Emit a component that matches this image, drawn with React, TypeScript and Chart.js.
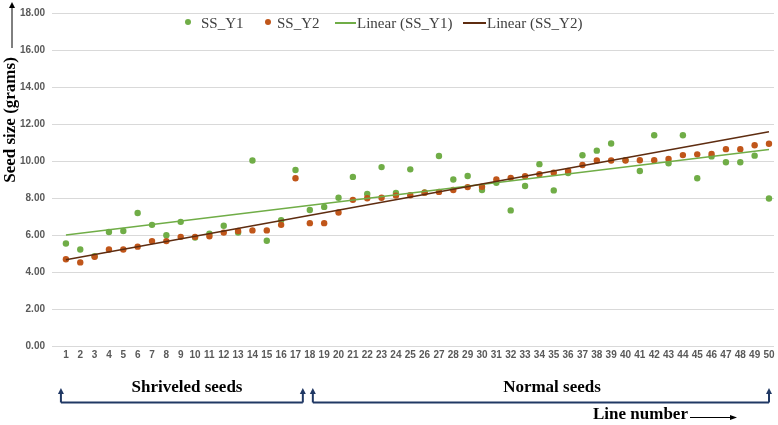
import React, { useEffect, useRef } from "react";
import { Chart, registerables } from "chart.js";

Chart.register(...registerables);

const lineNumbers = [
  "1", "2", "3", "4", "5", "6", "7", "8", "9", "10",
  "11", "12", "13", "14", "15", "16", "17", "18", "19", "20",
  "21", "22", "23", "24", "25", "26", "27", "28", "29", "30",
  "31", "32", "33", "34", "35", "36", "37", "38", "39", "40",
  "41", "42", "43", "44", "45", "46", "47", "48", "49", "50",
];

const ssY1 = [
  5.54, 5.22, 4.85, 6.16, 6.22, 7.19, 6.55, 5.99, 6.71, 5.86,
  6.07, 6.5, 6.13, 10.03, 5.69, 6.8, 9.51, 7.35, 7.52, 8.01,
  9.14, 8.22, 9.67, 8.27, 9.55, 8.3, 10.27, 9.0, 9.19, 8.43,
  8.82, 7.33, 8.65, 9.83, 8.41, 9.35, 10.31, 10.56, 10.95, 10.05,
  9.46, 11.39, 9.88, 11.39, 9.07, 10.25, 9.93, 9.93, 10.29, 7.97,
];

const ssY2 = [
  4.69, 4.52, 4.82, 5.22, 5.22, 5.37, 5.67, 5.67, 5.9, 5.9,
  5.93, 6.13, 6.22, 6.25, 6.25, 6.55, 9.07, 6.64, 6.64, 7.22,
  7.9, 7.99, 8.01, 8.13, 8.15, 8.29, 8.33, 8.43, 8.59, 8.61,
  9.0, 9.09, 9.18, 9.28, 9.37, 9.46, 9.78, 10.03, 10.03, 10.03,
  10.04, 10.04, 10.11, 10.32, 10.36, 10.38, 10.64, 10.64, 10.85, 10.93,
];

// Trend-line end points (at line 1 and line 50)
const trendX = [1, 50];
const trendY1 = [6.0, 10.62];
const trendY2 = [4.66, 11.58];

const legendLabels = ["SS_Y1", "SS_Y2", "Linear (SS_Y1)", "Linear (SS_Y2)"];
const yTitle = "Seed size (grams)";
const groupLabels = ["Shriveled seeds", "Normal seeds"];
const xTitle = "Line number";

const GREEN = "#70ad47";
const BROWN = "#c0561a";
const DARK_BROWN = "#5e2c10";
const NAVY = "#203864";
const SERIF = "'Liberation Serif', 'Times New Roman', serif";

function arrowUp(ctx: CanvasRenderingContext2D, x: number, yBottom: number, yTop: number) {
  ctx.beginPath();
  ctx.moveTo(x, yBottom);
  ctx.lineTo(x, yTop + 4);
  ctx.stroke();
  ctx.beginPath();
  ctx.moveTo(x, yTop);
  ctx.lineTo(x - 3, yTop + 6);
  ctx.lineTo(x + 3, yTop + 6);
  ctx.closePath();
  ctx.fill();
}

const annotationPlugin = {
  id: "annotations",
  afterDraw(chart: any) {
    const ctx: CanvasRenderingContext2D = chart.ctx;
    const xs = chart.scales.x;
    ctx.save();

    // Legend
    ctx.font = `15px ${SERIF}`;
    ctx.textBaseline = "middle";
    ctx.textAlign = "left";
    ctx.fillStyle = "#404040";
    const ly = 24;
    ctx.fillStyle = GREEN;
    ctx.beginPath();
    ctx.arc(188, 22, 3, 0, Math.PI * 2);
    ctx.fill();
    ctx.fillStyle = "#404040";
    ctx.fillText(legendLabels[0], 201, ly);
    ctx.fillStyle = BROWN;
    ctx.beginPath();
    ctx.arc(268, 22, 3, 0, Math.PI * 2);
    ctx.fill();
    ctx.fillStyle = "#404040";
    ctx.fillText(legendLabels[1], 277, ly);
    ctx.strokeStyle = GREEN;
    ctx.lineWidth = 2;
    ctx.beginPath();
    ctx.moveTo(335, 23);
    ctx.lineTo(356, 23);
    ctx.stroke();
    ctx.fillText(legendLabels[2], 357, ly);
    ctx.strokeStyle = DARK_BROWN;
    ctx.beginPath();
    ctx.moveTo(463, 23);
    ctx.lineTo(486, 23);
    ctx.stroke();
    ctx.fillText(legendLabels[3], 487, ly);

    // Y axis title with arrow
    ctx.save();
    ctx.translate(11, 120);
    ctx.rotate(-Math.PI / 2);
    ctx.font = `bold 17px ${SERIF}`;
    ctx.fillStyle = "#000";
    ctx.textAlign = "center";
    ctx.textBaseline = "middle";
    ctx.fillText(yTitle, 0, 0);
    ctx.restore();
    ctx.strokeStyle = "#000";
    ctx.fillStyle = "#000";
    ctx.lineWidth = 1;
    arrowUp(ctx, 12, 48, 2);

    // Group brackets
    const x1 = xs.getPixelForValue(1) - 5;
    const x18 = xs.getPixelForValue(18) - 7;
    const x19 = xs.getPixelForValue(18) + 3;
    const x50 = xs.getPixelForValue(50);
    ctx.strokeStyle = NAVY;
    ctx.fillStyle = NAVY;
    ctx.lineWidth = 2;
    const by = 402.5;
    ctx.beginPath();
    ctx.moveTo(x1, by);
    ctx.lineTo(x18, by);
    ctx.stroke();
    ctx.beginPath();
    ctx.moveTo(x19, by);
    ctx.lineTo(x50, by);
    ctx.stroke();
    ctx.lineWidth = 2;
    arrowUp(ctx, x1, by, 388);
    arrowUp(ctx, x18, by, 388);
    arrowUp(ctx, x19, by, 388);
    arrowUp(ctx, x50, by, 388);

    ctx.font = `bold 17px ${SERIF}`;
    ctx.fillStyle = "#000";
    ctx.textAlign = "center";
    ctx.textBaseline = "middle";
    ctx.fillText(groupLabels[0], 187, 388);
    ctx.fillText(groupLabels[1], 552, 388);

    ctx.textAlign = "left";
    ctx.fillText(xTitle, 593, 415);
    ctx.strokeStyle = "#000";
    ctx.fillStyle = "#000";
    ctx.lineWidth = 1;
    ctx.beginPath();
    ctx.moveTo(690, 417.5);
    ctx.lineTo(732, 417.5);
    ctx.stroke();
    ctx.beginPath();
    ctx.moveTo(737, 417.5);
    ctx.lineTo(730, 415);
    ctx.lineTo(730, 420);
    ctx.closePath();
    ctx.fill();

    ctx.restore();
  },
};

export default function App() {
  const canvasRef = useRef<HTMLCanvasElement | null>(null);

  useEffect(() => {
    document.body.style.margin = "0";
    const canvas = canvasRef.current;
    if (!canvas) return;

    const chart = new Chart(canvas, {
      type: "scatter",
      data: {
        datasets: [
          {
            label: legendLabels[0],
            data: ssY1.map((v, i) => ({ x: Number(lineNumbers[i]), y: v })),
            backgroundColor: GREEN,
            borderColor: GREEN,
            pointRadius: 3.2,
            pointBorderWidth: 0,
            order: 3,
          },
          {
            label: legendLabels[1],
            data: ssY2.map((v, i) => ({ x: Number(lineNumbers[i]), y: v })),
            backgroundColor: BROWN,
            borderColor: BROWN,
            pointRadius: 3.2,
            pointBorderWidth: 0,
            order: 2,
          },
          {
            type: "line",
            label: legendLabels[2],
            data: trendX.map((x, i) => ({ x, y: trendY1[i] })),
            borderColor: GREEN,
            borderWidth: 1.6,
            pointRadius: 0,
            fill: false,
            order: 1,
          } as any,
          {
            type: "line",
            label: legendLabels[3],
            data: trendX.map((x, i) => ({ x, y: trendY2[i] })),
            borderColor: DARK_BROWN,
            borderWidth: 1.6,
            pointRadius: 0,
            fill: false,
            order: 0,
          } as any,
        ],
      },
      options: {
        animation: false,
        responsive: false,
        maintainAspectRatio: false,
        layout: { padding: { top: 7, right: 0, left: 0, bottom: 0 } },
        plugins: {
          legend: { display: false },
          tooltip: { enabled: false },
        },
        scales: {
          x: {
            type: "linear",
            min: 0.03,
            max: 50.35,
            afterBuildTicks: (scale: any) => {
              scale.ticks = lineNumbers.map((l) => ({ value: Number(l) }));
            },
            afterFit: (scale: any) => {
              scale.height = 79;
            },
            grid: { display: false, drawTicks: false },
            border: { display: false },
            ticks: {
              autoSkip: false,
              maxRotation: 0,
              minRotation: 0,
              padding: 3,
              color: "#595959",
              font: { family: "'Liberation Sans', Arial, sans-serif", size: 10, weight: "bold" },
              callback: (v: any) => lineNumbers[Number(v) - 1] ?? "",
            },
          },
          y: {
            min: 0,
            max: 18,
            afterFit: (scale: any) => {
              scale.width = 52;
            },
            grid: { color: "#d9d9d9", lineWidth: 1, drawTicks: false },
            border: { display: false },
            ticks: {
              stepSize: 2,
              padding: 7,
              color: "#595959",
              font: { family: "'Liberation Sans', Arial, sans-serif", size: 10, weight: "bold" },
              callback: (v: any) => Number(v).toFixed(2),
            },
          },
        },
      },
      plugins: [annotationPlugin],
    } as any);

    return () => chart.destroy();
  }, []);

  return (
    <div style={{ width: 778, height: 425, position: "relative", background: "#fff" }}>
      <canvas ref={canvasRef} width={778} height={425} style={{ display: "block" }} />
    </div>
  );
}
